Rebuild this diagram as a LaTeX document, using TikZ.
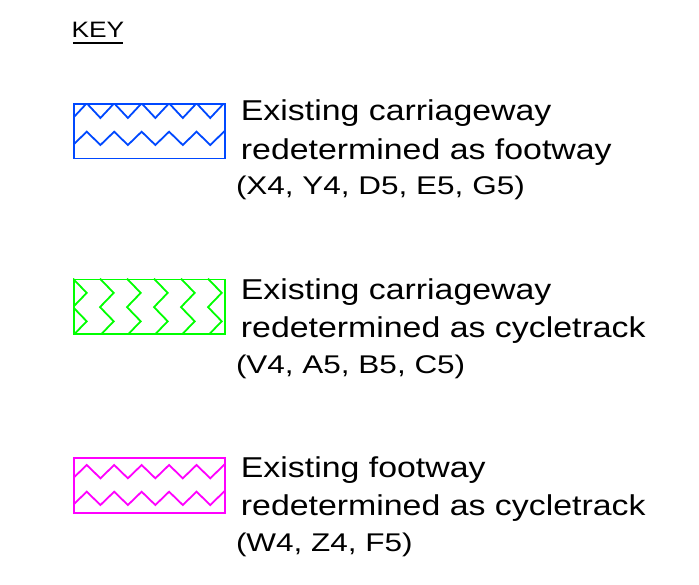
\documentclass[tikz,border=0pt]{standalone}
\usepackage{fontspec}
\newfontfamily\keyfont[FakeStretch=1.18]{Liberation Sans}
\newfontfamily\reffont[FakeStretch=1.23]{Liberation Sans}
\definecolor{keyblue}{RGB}{0,72,255}
\definecolor{keygreen}{RGB}{0,255,0}
\definecolor{keymagenta}{RGB}{255,0,255}

\begin{document}
\begin{tikzpicture}[
    x = 1pt, y = -1pt,
    swatch/.style = {
      rectangle, draw, line width = 1.8pt,
      inner sep = 0pt, anchor = north west,
      minimum width = 151pt, minimum height = 54.4pt
    },
    zig/.style = {line width = 1.8pt},
    maintext/.style = {anchor = base west, inner sep = 0pt, font = \keyfont\fontsize{28.7}{34}\selectfont},
    reftext/.style  = {anchor = base west, inner sep = 0pt, font = \reffont\fontsize{25.6}{30}\selectfont}
  ]

  \useasboundingbox (0,0) rectangle (699,585);

  % Heading
  \node[anchor = base west, inner sep = 0pt, font = \keyfont\fontsize{22.3}{26}\selectfont]
    (key) at (71.4,38) {KEY};
  \draw[line width = 1.2pt] ([xshift = 1.5pt, yshift = -5pt]key.base west)
    -- ([xshift = -1pt, yshift = -5pt]key.base east);

  % Swatches
  \node[swatch, keyblue]    (footsw)    at (73,103.3) {};
  \node[swatch, keygreen]   (cyclesw)   at (73,278.7) {};
  \node[swatch, keymagenta] (fwcyclesw) at (73,457.3) {};

  % Zigzag fills
  \begin{scope}[keyblue]
    \clip (footsw.south west) rectangle (footsw.north east);
    \draw[zig, shift = {(footsw.north west)}]
      (0,14.7) \foreach \k in {0,...,5}{ -- ({13.73+27.45*\k},0) -- ({27.45+27.45*\k},14.7) }
      (0,41.7) \foreach \k in {0,...,5}{ -- ({13.73+27.45*\k},28.4) -- ({27.45+27.45*\k},41.7) };
  \end{scope}
  \begin{scope}[keygreen]
    \clip (cyclesw.south west) rectangle (cyclesw.north east);
    \foreach \k in {0,...,5}
      \draw[zig, shift = {(cyclesw.north west)}]
        ({27*\k},0) -- ({27*\k+13.7},14.2) -- ({27*\k},28.4)
        -- ({27*\k+13.7},42.6) -- ({27*\k},56.8);
  \end{scope}
  \begin{scope}[keymagenta]
    \clip (fwcyclesw.south west) rectangle (fwcyclesw.north east);
    \draw[zig, shift = {(fwcyclesw.north west)}]
      (0,21) \foreach \k in {0,...,5}{ -- ({13.73+27.45*\k},7.7) -- ({27.45+27.45*\k},21) }
      (0,47.7) \foreach \k in {0,...,5}{ -- ({13.73+27.45*\k},34.4) -- ({27.45+27.45*\k},47.7) };
  \end{scope}

  % Carriageway to footway
  \node[maintext] (foot1) at (240.7,120.7) {Existing carriageway};
  \node[maintext] (foot2) at (240.7,159.2) {redetermined as footway};
  \node[reftext]  (foot3) at (235.8,195) {(X4, Y4, D5, E5, G5)};

  % Carriageway to cycletrack
  \node[maintext] (cyc1) at (240.7,299.3) {Existing carriageway};
  \node[maintext] (cyc2) at (240.7,337.8) {redetermined as cycletrack};
  \node[reftext]  (cyc3) at (235.8,373.6) {(V4, A5, B5, C5)};

  % Footway to cycletrack
  \node[maintext] (fwc1) at (240.7,477) {Existing footway};
  \node[maintext] (fwc2) at (240.7,515.5) {redetermined as cycletrack};
  \node[reftext]  (fwc3) at (235.8,551) {(W4, Z4, F5)};

\end{tikzpicture}
\end{document}
